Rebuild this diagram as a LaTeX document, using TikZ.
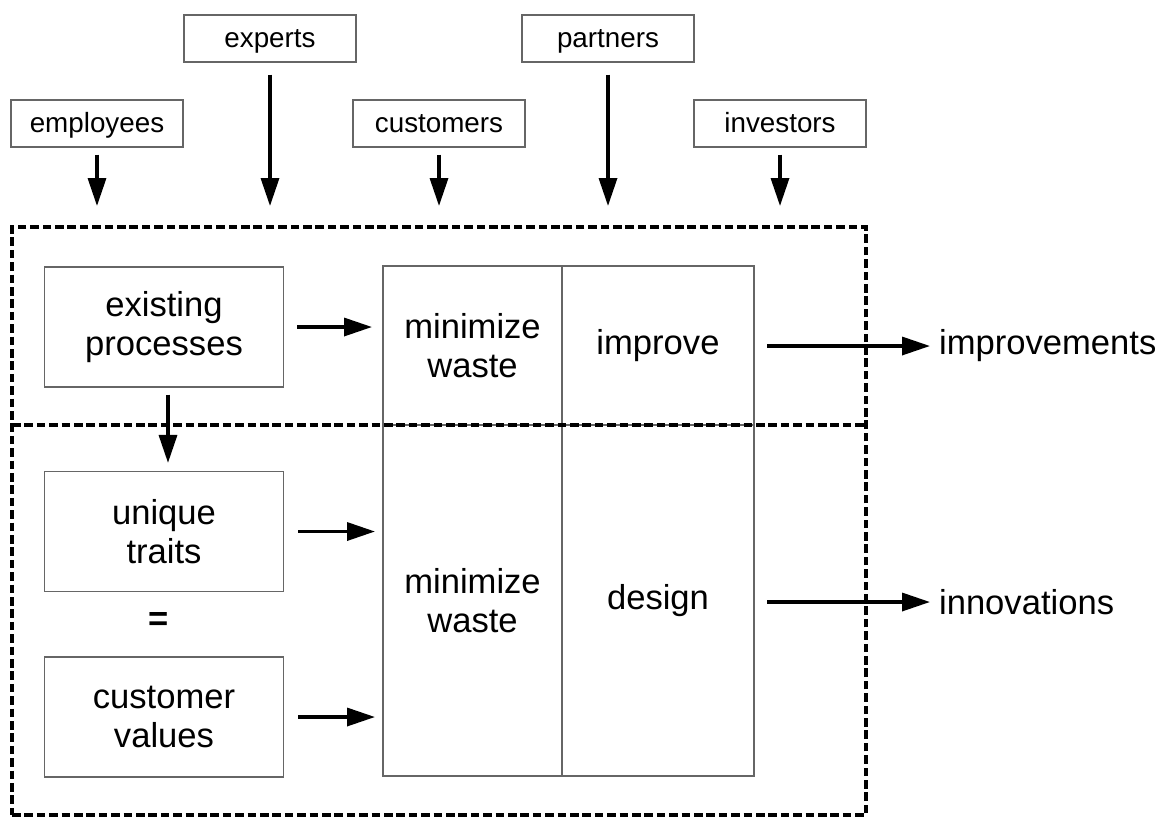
\documentclass[tikz,border=0pt]{standalone}
\usepackage{fontspec}
\setmainfont{Liberation Sans}
\usetikzlibrary{positioning,arrows.meta}

\begin{document}
\begin{tikzpicture}[x=0.5pt,y=-0.5pt,
  src/.style={draw=black!60,line width=0.6pt,minimum width=86pt,minimum height=23.5pt,
    inner sep=0pt,text height=0.9em,text depth=0.04em,font=\fontsize{13.9}{16}\selectfont},
  blk/.style={draw=black!60,line width=0.6pt,minimum width=119.5pt,minimum height=60pt,
    align=center,inner sep=0pt,font=\fontsize{17.3}{19.5}\selectfont},
  cell/.style={draw=black!60,line width=0.6pt,outer sep=0pt,minimum width=#1,
    align=center,inner sep=0pt,font=\fontsize{17.3}{19.5}\selectfont},
  big/.style={font=\fontsize{17.3}{19.5}\selectfont},
  zone/.style={draw,line width=2.2pt,dash pattern=on 4.3pt off 1.9pt},
  ar/.style={line width=1.7pt,-{Triangle[length=14pt,width=9pt]}}]
\useasboundingbox (0,0) rectangle (1166,816);
% stakeholders
\node[src] (experts) at (270,38.5) {experts};
\node[src] (partners) at (608,38.5) {partners};
\node[src] (employees) at (97,123.5) {employees};
\node[src] (customers) at (439,123.5) {customers};
\node[src] (investors) at (780,123.5) {investors};
% organisation frame
\node[zone,outer sep=0pt,minimum width=427pt,minimum height=294pt] (frame) at (439,521) {};
% inputs
\node[blk] (exist) at (164,327) {existing\\processes};
\node[blk] (uniq) at (164,531.5) {unique\\traits};
\node[big] (eq) at (159,621) {\textbf{=}};
\node[blk] (custval) at (164,717) {customer\\values};
% process cells
\node[cell=89.5pt,minimum height=79.5pt] (mw1) at (472.5,345.5) {minimize\\waste};
\node[cell=96pt,minimum height=79.5pt,right=0pt of mw1] (imp) {improve};
\node[cell=89.5pt,minimum height=175.5pt,below=0pt of mw1] (mw2) {minimize\\waste};
\node[cell=96pt,minimum height=175.5pt,right=0pt of mw2] (des) {design};
\draw[zone] (frame.west |- mw1.south) -- (frame.east |- mw1.south);
% outputs
\node[big,anchor=west] (impout) at (932,346) {improvements};
\node[big,anchor=west] (innout) at (932,602) {innovations};
% arrows
\draw[ar,shorten <=3.5pt,shorten >=10.5pt] (employees) -- (employees |- frame.north);
\draw[ar,shorten <=6pt,shorten >=10.5pt] (experts) -- (experts |- frame.north);
\draw[ar,shorten <=3.5pt,shorten >=10.5pt] (customers) -- (customers |- frame.north);
\draw[ar,shorten <=6pt,shorten >=10.5pt] (partners) -- (partners |- frame.north);
\draw[ar,shorten <=3.5pt,shorten >=10.5pt] (investors) -- (investors |- frame.north);
\draw[ar,shorten <=6.5pt,shorten >=5.5pt] (exist) -- (exist -| mw1.west);
\draw[ar,shorten <=3.5pt,shorten >=4pt] ([xshift=2pt]exist.south) -- ([xshift=2pt]uniq.north);
\draw[ar,shorten <=7pt,shorten >=4pt] (uniq) -- (uniq -| mw2.west);
\draw[ar,shorten <=7pt,shorten >=4pt] (custval) -- (custval -| mw2.west);
\draw[ar,shorten <=6.5pt,shorten >=1pt] (impout.west -| imp.east) -- (impout.west);
\draw[ar,shorten <=6.5pt,shorten >=1pt] (innout.west -| des.east) -- (innout.west);
\end{tikzpicture}
\end{document}
